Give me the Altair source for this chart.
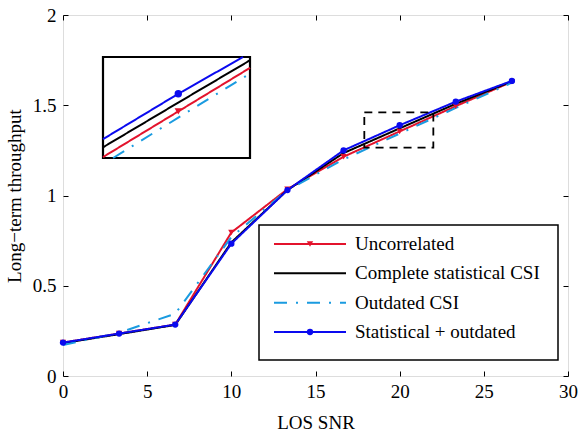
import altair as alt
import pandas as pd

# ---------------- data ----------------
series_names = ["Uncorrelated", "Complete statistical CSI", "Outdated CSI", "Statistical + outdated"]
snr = [0, 3.333, 6.667, 10, 13.333, 16.667, 20, 23.333, 26.667]
uncorrelated = [0.185, 0.235, 0.285, 0.795, 1.035, 1.215, 1.355, 1.495, 1.63]
complete = [0.182, 0.232, 0.283, 0.74, 1.03, 1.235, 1.372, 1.508, 1.632]
outdated = [0.172, 0.24, 0.345, 0.77, 1.03, 1.2, 1.343, 1.485, 1.625]
statistical = [0.185, 0.235, 0.285, 0.733, 1.03, 1.25, 1.389, 1.52, 1.635]
marker_series = ["Uncorrelated", "Statistical + outdated"]
zoom_x = [17.9, 22.0]
zoom_y = [1.265, 1.46]
x_ticks = [0, 5, 10, 15, 20, 25, 30]
y_ticks = [0, 0.5, 1, 1.5, 2]

colors = ["#e3132c", "#000000", "#1a9be0", "#0a0aef"]
dashes = [[1, 0], [1, 0], [13, 9, 2, 9], [1, 0]]
shapes = ["triangle-down", "circle"]
FONT = "'Liberation Serif', 'Times New Roman', Times, serif"

values = [uncorrelated, complete, outdated, statistical]
rows = []
for name, ys in zip(series_names, values):
    for i, (x, y) in enumerate(zip(snr, ys)):
        rows.append({"series": name, "x": x, "y": y, "i": i})
df = pd.DataFrame(rows)


# clip polylines to zoom window (Liang-Barsky) for the inset
def clip_segment(x0, y0, x1, y1, xmin, xmax, ymin, ymax):
    dx, dy = x1 - x0, y1 - y0
    t0, t1 = 0.0, 1.0
    for p, q in ((-dx, x0 - xmin), (dx, xmax - x0), (-dy, y0 - ymin), (dy, ymax - y0)):
        if p == 0:
            if q < 0:
                return None
        else:
            t = q / p
            if p < 0:
                t0 = max(t0, t)
            else:
                t1 = min(t1, t)
    if t0 > t1:
        return None
    return (x0 + t0 * dx, y0 + t0 * dy, x0 + t1 * dx, y0 + t1 * dy)


inset_rows = []
for name, ys in zip(series_names, values):
    pts = []
    for k in range(len(snr) - 1):
        seg = clip_segment(snr[k], ys[k], snr[k + 1], ys[k + 1], zoom_x[0], zoom_x[1], zoom_y[0], zoom_y[1])
        if seg:
            for p in ((seg[0], seg[1]), (seg[2], seg[3])):
                if not pts or abs(pts[-1][0] - p[0]) > 1e-9:
                    pts.append(p)
    for j, (x, y) in enumerate(pts):
        inset_rows.append({"series": name, "x": x, "y": y, "i": j})
inset_df = pd.DataFrame(inset_rows)
inset_marks = df[(df.series.isin(marker_series)) & (df.x >= zoom_x[0]) & (df.x <= zoom_x[1])]

zoom_df = pd.DataFrame([{"x1": zoom_x[0], "x2": zoom_x[1], "y1": zoom_y[0], "y2": zoom_y[1]}])
legend_df = pd.DataFrame({"series": series_names})

# ---------------- scales ----------------
color = alt.Color("series:N", scale=alt.Scale(domain=series_names, range=colors), legend=None)
dash = alt.StrokeDash("series:N", scale=alt.Scale(domain=series_names, range=dashes), legend=None)
shape = alt.Shape("series:N", scale=alt.Scale(domain=marker_series, range=shapes), legend=None)

xs = alt.Scale(domain=[0, 30], nice=False, zero=False)
ys_ = alt.Scale(domain=[0, 2], nice=False, zero=False)

x_axis = alt.Axis(orient="bottom", values=x_ticks, ticks=False, tickSize=0, domain=False, grid=False,
                  labelFont=FONT, labelFontSize=19, labelColor="black", labelPadding=6,
                  labelFlush=False, labelOverlap=False,
                  title="LOS SNR", titleFont=FONT, titleFontSize=19, titleFontWeight="normal",
                  titleColor="black", titlePadding=12)
y_axis = alt.Axis(orient="left", values=y_ticks, ticks=False, tickSize=0, domain=False, grid=False,
                  labelFont=FONT, labelFontSize=19, labelColor="black", labelPadding=7,
                  labelFlush=False, labelOverlap=False, format="~g",
                  title="Long\u2212term throughput", titleFont=FONT, titleFontSize=19,
                  titleFontWeight="normal", titleColor="black", titlePadding=8)

lines = alt.Chart(df).mark_line(strokeWidth=2).encode(
    x=alt.X("x:Q", scale=xs, axis=x_axis),
    y=alt.Y("y:Q", scale=ys_, axis=y_axis),
    color=color, strokeDash=dash, order="i:Q",
)
points = alt.Chart(df).transform_filter(
    alt.FieldOneOfPredicate(field="series", oneOf=marker_series)
).mark_point(filled=True, size=40, opacity=1).encode(
    x=alt.X("x:Q", scale=xs, axis=x_axis),
    y=alt.Y("y:Q", scale=ys_, axis=y_axis),
    color=color, shape=shape,
)
zoom_rect = alt.Chart(zoom_df).mark_rect(filled=False, stroke="black", strokeWidth=1.8, strokeDash=[8, 6]).encode(
    x=alt.X("x1:Q", scale=xs, axis=x_axis), x2="x2:Q",
    y=alt.Y("y1:Q", scale=ys_, axis=y_axis), y2="y2:Q",
)
main = alt.layer(lines, points, zoom_rect)


def tick_layer(xorient, yorient):
    return alt.Chart(df).mark_point(opacity=0).encode(
        x=alt.X("x:Q", scale=xs, axis=alt.Axis(orient=xorient, offset=-5, values=x_ticks, labels=False,
                                                ticks=True, tickSize=5, tickColor="black", tickWidth=1,
                                                domain=False, grid=False, title=None)),
        y=alt.Y("y:Q", scale=ys_, axis=alt.Axis(orient=yorient, offset=-5, values=y_ticks, labels=False,
                                                 ticks=True, tickSize=5, tickColor="black", tickWidth=1,
                                                 domain=False, grid=False, title=None)),
    )


ticks_bl = tick_layer("bottom", "left")
ticks_tr = tick_layer("top", "right")

# ---------------- inset ----------------
ixs = alt.Scale(domain=zoom_x, range=[40, 187], nice=False, zero=False)
iys = alt.Scale(domain=zoom_y, range=[143, 42], nice=False, zero=False)
inset_box = alt.Chart(zoom_df).mark_rect(fill="white", stroke="black", strokeWidth=2.2).encode(
    x=alt.X("x1:Q", scale=ixs, axis=None), x2="x2:Q",
    y=alt.Y("y1:Q", scale=iys, axis=None), y2="y2:Q",
)
inset_lines = alt.Chart(inset_df).mark_line(strokeWidth=2).encode(
    x=alt.X("x:Q", scale=ixs, axis=None),
    y=alt.Y("y:Q", scale=iys, axis=None),
    color=color, strokeDash=dash, order="i:Q",
)
inset_points = alt.Chart(inset_marks).mark_point(filled=True, size=55, opacity=1).encode(
    x=alt.X("x:Q", scale=ixs, axis=None),
    y=alt.Y("y:Q", scale=iys, axis=None),
    color=color, shape=shape,
)
inset = alt.layer(inset_box, inset_lines, inset_points)

# ---------------- legend ----------------
lys = alt.Scale(type="point", domain=series_names, range=[229, 317], padding=0)
leg_box = alt.Chart(zoom_df).mark_rect(fill="white", stroke="black", strokeWidth=1.5).encode(
    x=alt.value(196), x2=alt.value(495), y=alt.value(210), y2=alt.value(345),
)
leg_rules = alt.Chart(legend_df).mark_rule(strokeWidth=2).encode(
    x=alt.value(211), x2=alt.value(283),
    y=alt.Y("series:N", scale=lys, axis=None),
    color=color, strokeDash=dash,
)
leg_points = alt.Chart(legend_df).transform_filter(
    alt.FieldOneOfPredicate(field="series", oneOf=marker_series)
).mark_point(filled=True, size=40, opacity=1).encode(
    x=alt.value(247),
    y=alt.Y("series:N", scale=lys, axis=None),
    color=color, shape=shape,
)
leg_text = alt.Chart(legend_df).mark_text(align="left", baseline="middle", font=FONT, fontSize=19,
                                          color="black").encode(
    x=alt.value(292),
    y=alt.Y("series:N", scale=lys, axis=None),
    text="series:N",
)
legend = alt.layer(leg_box, leg_rules, leg_points, leg_text)

chart = alt.layer(main, ticks_bl, ticks_tr, inset, legend).resolve_scale(
    x="independent", y="independent"
).properties(
    width=505, height=361,
    autosize=alt.AutoSizeParams(type="none"),
    padding={"left": 63, "top": 15, "right": 11, "bottom": 63},
).configure_view(stroke="black", strokeWidth=1.5).configure(background="white")

chart.save("out.html", embed_options={"renderer": "svg", "actions": False})
